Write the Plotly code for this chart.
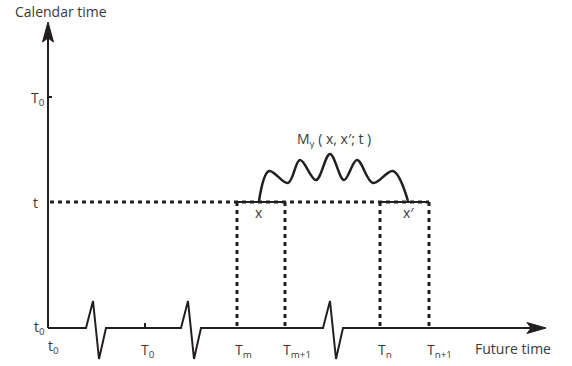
import plotly.graph_objects as go

# Conceptual diagram data (in the drawing's own units)
axis_origin = [48, 328]
y_axis_top = 22
x_axis_end = 546
calendar_t = 202          # level of "t" on calendar axis
calendar_T0 = 97          # level of "T0" on calendar axis
future_T0 = 145           # T0 on future axis
break_starts = [86, 181, 323]  # where axis breaks begin
dashed_x = [237, 285, 380, 429]
future_labels = ["T<sub>m</sub>", "T<sub>m+1</sub>", "T<sub>n</sub>", "T<sub>n+1</sub>"]
segments = [[237, 284], [380, 428]]
segment_labels = ["x", "x′"]
wave_x = [259, 269, 288, 300, 316, 330, 344, 357, 373, 393, 408]
wave_y = [201, 171, 183, 160, 180, 154, 180, 160, 183, 171, 201]

LC = "#231f20"
FONT = "Open Sans"
TC = "#3a3a3a"

fig = go.Figure()

ox, oy = axis_origin

# y axis
fig.add_trace(go.Scatter(x=[ox, ox], y=[oy, y_axis_top + 14], mode="lines",
                         line=dict(color=LC, width=2), hoverinfo="skip"))
# y arrowhead
fig.add_trace(go.Scatter(x=[ox, ox - 5.5, ox, ox + 5.5, ox], y=[y_axis_top, y_axis_top + 20, y_axis_top + 16, y_axis_top + 20, y_axis_top],
                         mode="lines", fill="toself", fillcolor=LC, line=dict(color=LC, width=1), hoverinfo="skip"))

# x axis with breaks
xs = [ox]
ys = [oy]
for b in break_starts:
    xs += [b, b + 7, b + 13, b + 20]
    ys += [oy, oy - 27, oy + 31, oy]
xs.append(x_axis_end - 14)
ys.append(oy)
fig.add_trace(go.Scatter(x=xs, y=ys, mode="lines", line=dict(color=LC, width=2), hoverinfo="skip"))
# x arrowhead
fig.add_trace(go.Scatter(x=[x_axis_end, x_axis_end - 19, x_axis_end - 15, x_axis_end - 19, x_axis_end],
                         y=[oy, oy - 5.5, oy, oy + 5.5, oy],
                         mode="lines", fill="toself", fillcolor=LC, line=dict(color=LC, width=1), hoverinfo="skip"))

# ticks
fig.add_trace(go.Scatter(x=[ox, ox + 4], y=[calendar_T0, calendar_T0], mode="lines",
                         line=dict(color=LC, width=2), hoverinfo="skip"))
fig.add_trace(go.Scatter(x=[future_T0, future_T0], y=[oy, oy - 5], mode="lines",
                         line=dict(color=LC, width=2), hoverinfo="skip"))

DASH = dict(color=LC, width=3, dash="4px,4px")
# dashed horizontal line at t
fig.add_trace(go.Scatter(x=[ox + 2, dashed_x[3]], y=[calendar_t, calendar_t], mode="lines",
                         line=DASH, hoverinfo="skip"))
# solid segments
for s in segments:
    fig.add_trace(go.Scatter(x=s, y=[calendar_t, calendar_t], mode="lines",
                             line=dict(color=LC, width=2), hoverinfo="skip"))
# dashed verticals
for dx in dashed_x:
    fig.add_trace(go.Scatter(x=[dx, dx], y=[calendar_t, oy], mode="lines",
                             line=DASH, hoverinfo="skip"))

# wave
fig.add_trace(go.Scatter(x=wave_x, y=wave_y, mode="lines", line=dict(color=LC, width=2.5, shape="spline", smoothing=1.0),
                         hoverinfo="skip"))

def txt(x, y, s, size=14, anchor="center"):
    fig.add_annotation(x=x, y=y, text=s, showarrow=False, xanchor=anchor, yanchor="middle",
                       font=dict(family=FONT, size=size, color=TC))

txt(13, 11, "Calendar time", anchor="left")
txt(38, 98, "T<sub>0</sub>", anchor="center")
txt(35, 202, "t")
txt(39, 327, "t<sub>0</sub>")
txt(53, 346, "t<sub>0</sub>")
txt(148, 350, "T<sub>0</sub>")
for dx, lab in zip(dashed_x, future_labels):
    txt(dx - 4, 350, lab, anchor="left")
txt(473, 348, "Future time", anchor="left")
txt(334, 139, "M<sub>γ</sub> ( x, x′; t )")
txt(259, 212, segment_labels[0])
txt(408, 212, segment_labels[1])

fig.update_layout(
    width=572, height=366, margin=dict(l=0, r=0, t=0, b=0),
    paper_bgcolor="white", plot_bgcolor="white", showlegend=False,
    xaxis=dict(range=[0, 572], visible=False, fixedrange=True),
    yaxis=dict(range=[366, 0], visible=False, fixedrange=True),
)
fig.write_html("out.html")
